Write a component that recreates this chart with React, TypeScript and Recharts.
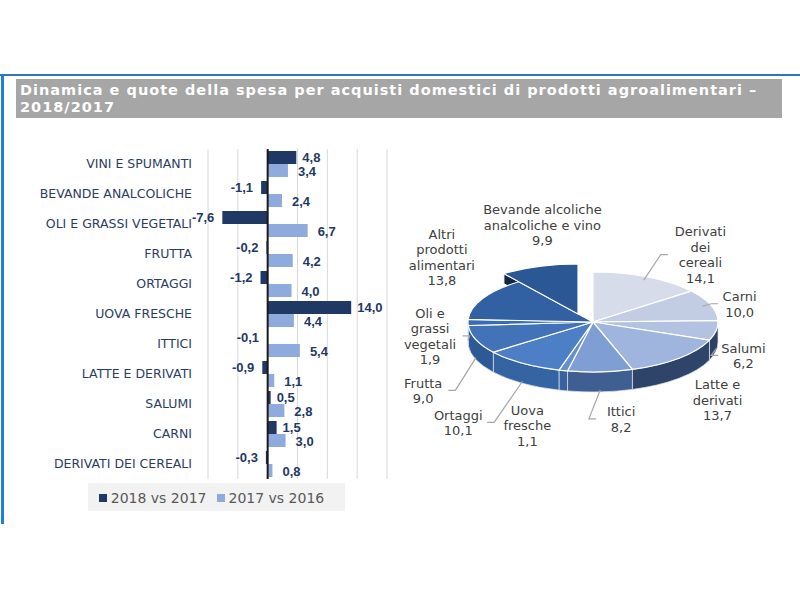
import React from 'react';
import {
  BarChart, Bar, XAxis, YAxis, CartesianGrid, ReferenceLine, LabelList, Legend,
  PieChart, Pie,
} from 'recharts';

// ---------- Bar chart data ----------
const CATEGORIES = [
  'VINI E SPUMANTI',
  'BEVANDE ANALCOLICHE',
  'OLI E GRASSI VEGETALI',
  'FRUTTA',
  'ORTAGGI',
  'UOVA FRESCHE',
  'ITTICI',
  'LATTE E DERIVATI',
  'SALUMI',
  'CARNI',
  'DERIVATI DEI CEREALI',
];
const SERIES_2018 = [4.8, -1.1, -7.6, -0.2, -1.2, 14.0, -0.1, -0.9, 0.5, 1.5, -0.3];
const SERIES_2017 = [3.4, 2.4, 6.7, 4.2, 4.0, 4.4, 5.4, 1.1, 2.8, 3.0, 0.8];
const SERIES_NAMES = ['2018 vs 2017', '2017 vs 2016'];
const X_TICKS = [-10, -5, 0, 5, 10, 15, 20];

// ---------- Pie chart data ----------
const PIE_NAMES = [
  'Derivati dei cereali',
  'Carni',
  'Salumi',
  'Latte e derivati',
  'Ittici',
  'Uova fresche',
  'Ortaggi',
  'Frutta',
  'Oli e grassi vegetali',
  'Altri prodotti alimentari',
  'Bevande alcoliche analcoliche e vino',
];
const PIE_LABEL_LINES = [
  ['Derivati', 'dei', 'cereali'],
  ['Carni'],
  ['Salumi'],
  ['Latte e', 'derivati'],
  ['Ittici'],
  ['Uova', 'fresche'],
  ['Ortaggi'],
  ['Frutta'],
  ['Oli e', 'grassi', 'vegetali'],
  ['Altri', 'prodotti', 'alimentari'],
  ['Bevande alcoliche', 'analcoliche e vino'],
];
const PIE_VALUES = [14.1, 10.0, 6.2, 13.7, 8.2, 1.1, 10.1, 9.0, 1.9, 13.8, 9.9];
const EXPLODED = 'Bevande alcoliche analcoliche e vino';
const WITH_LEADER = ['Derivati dei cereali', 'Carni', 'Salumi', 'Ittici', 'Ortaggi', 'Frutta', 'Oli e grassi vegetali'];

const barData = CATEGORIES.map((name, i) => ({ name, a: SERIES_2018[i], b: SERIES_2017[i] }));
const pieData = PIE_NAMES.map((name, i) => ({ name, value: PIE_VALUES[i] }));

// ---------- styles ----------
const DARK = '#1f3864';
const LIGHT = '#8faadc';
const TOP_COLORS = ['#d6dcea', '#c2cde3', '#b3c2e0', '#a0b5dd', '#7f9fd4', '#6690cc', '#4d7fc6', '#4273b8', '#3b6bb0', '#3161a3', '#2b5894'];
const SIDE_COLORS = ['#33496d', '#30466a', '#2c4164', '#2e4468', '#3f5f92', '#37639f', '#3564a3', '#2d5994', '#2a5590', '#2a538c', '#1f4577'];
const CUT_COLOR = '#0f2645';
const RX = 125;
const RY = 50;
const DEPTH = 20;
const LABEL_NUDGE: Record<string, [number, number]> = {
  'Derivati dei cereali': [31, 18],
  'Carni': [-18, 14],
  'Salumi': [-22, -3],
  'Latte e derivati': [4, -11],
  'Ittici': [18, -18],
  'Uova fresche': [-24, -9],
  'Ortaggi': [-36, 2],
  'Frutta': [-6, 15],
  'Oli e grassi vegetali': [12, -7],
  'Altri prodotti alimentari': [3, -20],
  'Bevande alcoliche analcoliche e vino': [19, 1],
};

const fmt = (v: number) => Number(v).toFixed(1).replace('.', ',');
const rad = (d: number) => (d * Math.PI) / 180;
const ept = (cx: number, cy: number, a: number, f = 1): [number, number] => [
  cx + RX * f * Math.cos(rad(a)),
  cy - RY * f * Math.sin(rad(a)),
];
const explodeOffset = (name: string, mid: number): [number, number] =>
  name === EXPLODED ? [48 * Math.cos(rad(mid)), -8.5 * Math.sin(rad(mid))] : [0, 0];

// ---------- bar labels ----------
const getBox = (p: any) => {
  const vb = p.viewBox || {};
  const x = p.x ?? vb.x;
  const y = p.y ?? vb.y;
  const w = p.width ?? vb.width;
  const h = p.height ?? vb.height;
  return { x: Number(x), y: Number(y), w: Number(w), h: Number(h) };
};

const makeLabel = (posOffset: number, negOffset: number, dy: number) => (p: any) => {
  const { x, y, w, h } = getBox(p);
  const v = Number(p.value);
  const left = Math.min(x, x + w);
  const right = Math.max(x, x + w);
  const pos = v >= 0;
  return (
    <text
      x={pos ? right + posOffset : left - negOffset}
      y={y + h / 2 + dy}
      dominantBaseline="central"
      textAnchor={pos ? 'start' : 'end'}
      fill={DARK}
      fontFamily='"Liberation Sans", Arial, sans-serif'
      fontWeight="bold"
      fontSize={13}
    >
      {fmt(v)}
    </text>
  );
};
const DarkLabel = makeLabel(6, 8, 0);
const LightLabel = makeLabel(10, 8, 1);
const NoTick = () => <g />;

// ---------- pie renderers ----------
const renderSide = (p: any) => {
  const { cx, cy, startAngle, endAngle, midAngle, index, name } = p;
  const a1 = Math.max(startAngle, endAngle);
  const a2 = Math.min(startAngle, endAngle);
  const [ox, oy] = explodeOffset(name, midAngle);
  const X = cx + ox;
  const Y = cy + oy;
  const parts: any[] = [];
  const hi = Math.min(a1, 0);
  const lo = Math.max(a2, -180);
  if (hi > lo) {
    const ph = ept(X, Y, hi);
    const pl = ept(X, Y, lo);
    const d = `M${ph[0]},${ph[1]}A${RX},${RY} 0 0 1 ${pl[0]},${pl[1]}L${pl[0]},${pl[1] + DEPTH}A${RX},${RY} 0 0 0 ${ph[0]},${ph[1] + DEPTH}Z`;
    parts.push(<path key="s" d={d} fill={SIDE_COLORS[index]} stroke="#dfe6f2" strokeWidth={1} strokeOpacity={0.7} />);
  }
  if (name === EXPLODED) {
    const pa = ept(X, Y, a1);
    const d = `M${X},${Y}L${pa[0]},${pa[1]}L${pa[0]},${pa[1] + DEPTH * 0.5}L${X},${Y + DEPTH * 0.5}Z`;
    parts.push(<path key="c" d={d} fill={CUT_COLOR} stroke="#ffffff" strokeWidth={1} />);
  }
  return <g key={`side-${index}`}>{parts}</g>;
};

const renderTop = (p: any) => {
  const { cx, cy, startAngle, endAngle, midAngle, index, name } = p;
  const a1 = Math.max(startAngle, endAngle);
  const a2 = Math.min(startAngle, endAngle);
  const [ox, oy] = explodeOffset(name, midAngle);
  const X = cx + ox;
  const Y = cy + oy;
  const p1 = ept(X, Y, a1);
  const p2 = ept(X, Y, a2);
  const large = a1 - a2 > 180 ? 1 : 0;
  const d = `M${X},${Y}L${p1[0]},${p1[1]}A${RX},${RY} 0 ${large} 1 ${p2[0]},${p2[1]}Z`;
  return <path key={`top-${index}`} d={d} fill={TOP_COLORS[index]} stroke="#ffffff" strokeWidth={1.2} strokeLinejoin="round" />;
};

const renderPieLabel = (p: any) => {
  const { cx, cy, midAngle, index, name, value } = p;
  const c = Math.cos(rad(midAngle));
  const s = Math.sin(rad(midAngle));
  const [ox, oy] = explodeOffset(name, midAngle);
  const nudge = LABEL_NUDGE[name] || [0, 0];
  const lx = cx + ox + (RX + 50) * c + nudge[0];
  const ly = cy + oy - (RY + 45) * s + (s < 0 ? DEPTH : 0) + nudge[1];
  const lines = [...PIE_LABEL_LINES[index], fmt(value)];
  const lh = 15.5;
  const y0 = ly - ((lines.length - 1) * lh) / 2;
  const maxLen = Math.max(...lines.map((l) => l.length));
  const halfW = maxLen * 3.7;
  let leader = null;
  if (WITH_LEADER.includes(name)) {
    const start = s < 0 ? ept(cx, cy, midAngle, 1) : ept(cx, cy, midAngle, 0.93);
    const sy = s < 0 ? start[1] + DEPTH * 0.9 : start[1];
    const ex = c > 0 ? lx - halfW - 3 : lx + halfW + 3;
    const ey = ly;
    const bx = c > 0 ? ex - 7 : ex + 7;
    leader = (
      <polyline
        points={`${start[0]},${sy} ${bx},${ey} ${ex},${ey}`}
        fill="none"
        stroke="#a6a6a6"
        strokeWidth={1.2}
      />
    );
  }
  return (
    <g key={`lbl-${index}`}>
      {leader}
      <text
        x={lx}
        y={y0}
        textAnchor="middle"
        dominantBaseline="central"
        fill="#404040"
        fontSize={13}
        fontFamily='"DejaVu Sans", sans-serif'
      >
        {lines.map((l, i) => (
          <tspan key={i} x={lx} y={y0 + i * lh}>
            {l}
          </tspan>
        ))}
      </text>
    </g>
  );
};

export default function App() {
  return (
    <div
      style={{
        position: 'absolute',
        left: 0,
        top: 0,
        width: 800,
        height: 600,
        background: '#ffffff',
        overflow: 'hidden',
        fontFamily: '"DejaVu Sans", sans-serif',
      }}
    >
      <div style={{ position: 'absolute', left: 0, top: 74, width: 800, height: 2, background: '#2e78b8' }} />
      <div style={{ position: 'absolute', left: 1, top: 74, width: 3, height: 450, background: '#1f80d0' }} />
      <div
        style={{
          position: 'absolute',
          left: 16,
          top: 79,
          width: 766,
          height: 39,
          background: '#a6a6a6',
          color: '#ffffff',
          fontWeight: 'bold',
          fontSize: 14.5,
          letterSpacing: 1.0,
          lineHeight: '17px',
          padding: '3px 0 0 4px',
          boxSizing: 'border-box',
          whiteSpace: 'nowrap',
          overflow: 'hidden',
        }}
      >
        Dinamica e quote della spesa per acquisti domestici di prodotti agroalimentari –
        <br />
        2018/2017
      </div>

      <div style={{ position: 'absolute', left: 0, top: 140 }}>
        <BarChart
          width={400}
          height={372}
          data={barData}
          layout="vertical"
          margin={{ top: 9, right: 13, bottom: 5, left: 0 }}
          barSize={13}
          barGap={0}
        >
          <CartesianGrid horizontal={false} stroke="#d9d9d9" strokeWidth={1} />
          <XAxis
            type="number"
            domain={[-10, 20]}
            ticks={X_TICKS}
            tick={NoTick}
            axisLine={false}
            tickLine={false}
            height={0}
          />
          <YAxis
            type="category"
            dataKey="name"
            width={208}
            tickLine={false}
            axisLine={false}
            tickMargin={10}
            interval={0}
            tick={{ fontSize: 12.5, fill: '#2b3d63', fontFamily: '"DejaVu Sans", sans-serif' }}
          />
          <Legend
            verticalAlign="bottom"
            align="left"
            iconType="square"
            iconSize={8}
            itemSorter="dataKey"
            wrapperStyle={{
              left: 88,
              top: 343,
              width: 257,
              height: 28,
              backgroundColor: '#f2f2f2',
              display: 'flex',
              alignItems: 'center',
              justifyContent: 'center',
            }}
            formatter={(v: any) => (
              <span style={{ color: '#595959', fontSize: 14, fontFamily: '"DejaVu Sans", sans-serif' }}>{v}</span>
            )}
          />
          <Bar dataKey="a" name={SERIES_NAMES[0]} fill={DARK} isAnimationActive={false}>
            <LabelList dataKey="a" content={DarkLabel} />
          </Bar>
          <Bar dataKey="b" name={SERIES_NAMES[1]} fill={LIGHT} isAnimationActive={false}>
            <LabelList dataKey="b" content={LightLabel} />
          </Bar>
          <ReferenceLine x={0} stroke="#1a1a1a" strokeWidth={2} />
        </BarChart>
      </div>

      <div style={{ position: 'absolute', left: 400, top: 180 }}>
        <PieChart width={390} height={270}>
          <Pie
            data={pieData}
            dataKey="value"
            nameKey="name"
            cx={188}
            cy={137}
            outerRadius={RX}
            startAngle={90}
            endAngle={-270}
            fill="none"
            stroke="none"
            label={renderSide}
            labelLine={false}
            isAnimationActive={false}
          />
          <Pie
            data={pieData}
            dataKey="value"
            nameKey="name"
            cx={188}
            cy={137}
            outerRadius={RX}
            startAngle={90}
            endAngle={-270}
            fill="none"
            stroke="none"
            label={renderTop}
            labelLine={false}
            isAnimationActive={false}
          />
          <Pie
            data={pieData}
            dataKey="value"
            nameKey="name"
            cx={188}
            cy={137}
            outerRadius={RX}
            startAngle={90}
            endAngle={-270}
            fill="none"
            stroke="none"
            label={renderPieLabel}
            labelLine={false}
            isAnimationActive={false}
          />
        </PieChart>
      </div>
    </div>
  );
}
